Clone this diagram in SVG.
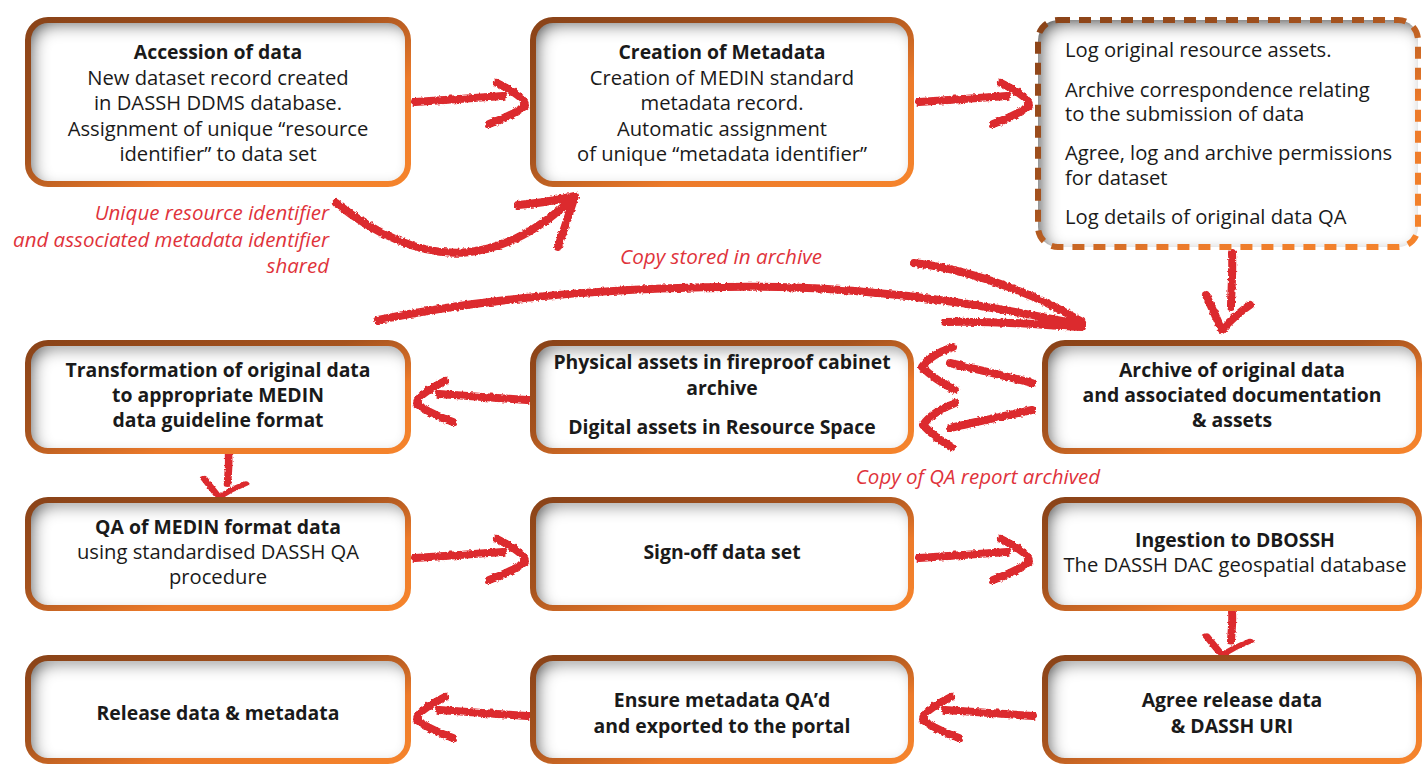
<svg xmlns="http://www.w3.org/2000/svg" width="1422" height="765" viewBox="0 0 1422 765">
<defs>
  <linearGradient id="border" x1="0" y1="0" x2="1" y2="1">
    <stop offset="0" stop-color="#8A4318"/>
    <stop offset="0.42" stop-color="#A6531E"/>
    <stop offset="0.68" stop-color="#EC7A2A"/>
    <stop offset="1" stop-color="#F5842C"/>
  </linearGradient>
  <filter id="inner" x="-5%" y="-10%" width="110%" height="120%">
    <feFlood flood-color="#000" flood-opacity="0.95"/>
    <feComposite in2="SourceAlpha" operator="out"/>
    <feGaussianBlur stdDeviation="8"/>
    <feOffset dx="6" dy="6"/>
    <feComposite in2="SourceAlpha" operator="in" result="sh"/>
    <feMerge><feMergeNode in="SourceGraphic"/><feMergeNode in="sh"/></feMerge>
  </filter>
  <filter id="brush" x="-10%" y="-10%" width="120%" height="120%">
    <feTurbulence type="fractalNoise" baseFrequency="0.35" numOctaves="2" seed="3" result="n"/>
    <feDisplacementMap in="SourceGraphic" in2="n" scale="3.5" xChannelSelector="R" yChannelSelector="G"/>
  </filter>
  <path id="rarrow" d="M0,2 C30,0 60,-2 88,-4 M82,-17 Q112,-2 110,6 Q100,14 74,24"/>
  <path id="darrow" d="M10,0 C11,20 9,40 9,54 M-16,42 Q-7,62 0,77 Q13,62 28,52"/>
</defs>
<style>
  .fill { fill: #ffffff; filter: url(#inner); }
  .border { fill: none; stroke: url(#border); stroke-width: 6; }
  .dashed { fill: none; stroke: url(#border); stroke-width: 6; stroke-dasharray: 12 9; }
  text { font-family: "Open Sans", Lato, "Liberation Sans", sans-serif; font-size: 20.2px; fill: #1a1a1a; }
  .c { text-anchor: middle; }
  .b { font-weight: bold; font-size: 19.4px; }
  .lbl { fill: #E0333B; font-style: italic; font-size: 20.5px; }
  .arr { fill: none; stroke: #DC2A2E; stroke-width: 8; stroke-linecap: round; stroke-linejoin: round; filter: url(#brush); }
</style>

<g id="connectors">
  <use href="#rarrow" class="arr" transform="translate(415,100)"/>
  <use href="#rarrow" class="arr" transform="translate(919,100)"/>
  <path class="arr" d="M336,203 C370,230 420,258 470,252 C510,247 545,225 574,197 M518,205 Q545,203 575,196 L558,247"/>
  <path class="arr" d="M378,320 C500,295 650,285 780,287 C900,290 1000,308 1082,325 M914,263 C960,268 1030,290 1082,322 M945,322 C990,320 1040,325 1082,327"/>
  <use href="#darrow" class="arr" transform="translate(1222,253)"/>
  <path class="arr" d="M1032,383 C1005,376 975,369 950,363 M953,347 Q930,355 922,367 Q935,380 955,390"/>
  <path class="arr" d="M1032,410 C1005,416 975,422 950,428 M955,403 Q932,412 923,425 Q935,438 952,447"/>
  <use href="#rarrow" class="arr" transform="translate(527,398) scale(-1,1)"/>
  <use href="#darrow" class="arr" transform="translate(219,455) scale(0.95,0.55)"/>
  <use href="#rarrow" class="arr" transform="translate(415,556)"/>
  <use href="#rarrow" class="arr" transform="translate(919,556)"/>
  <use href="#darrow" class="arr" transform="translate(1222,612) scale(1,0.56)"/>
  <use href="#rarrow" class="arr" transform="translate(1033,714) scale(-1,1)"/>
  <use href="#rarrow" class="arr" transform="translate(527,714) scale(-1,1)"/>
</g>

<g id="labels">
  <text class="lbl" x="329" y="220" text-anchor="end">Unique resource identifier</text>
  <text class="lbl" x="329" y="247" text-anchor="end">and associated metadata identifier</text>
  <text class="lbl" x="329" y="273" text-anchor="end">shared</text>
  <text class="lbl" x="620" y="264" textLength="202" lengthAdjust="spacingAndGlyphs">Copy stored in archive</text>
  <text class="lbl" x="978" y="484" text-anchor="middle">Copy of QA report archived</text>
</g>

<g id="n-accession">
  <rect class="fill" x="28" y="20" width="380" height="164" rx="20"/>
  <rect class="border" x="28" y="20" width="380" height="164" rx="20"/>
  <text class="c b" x="218" y="59">Accession of data</text>
  <text class="c" x="218" y="84.5">New dataset record created</text>
  <text class="c" x="218" y="110">in DASSH DDMS database.</text>
  <text class="c" x="218" y="135.5">Assignment of unique “resource</text>
  <text class="c" x="218" y="161">identifier” to data set</text>
</g>

<g id="n-metadata">
  <rect class="fill" x="533" y="20" width="378" height="164" rx="20"/>
  <rect class="border" x="533" y="20" width="378" height="164" rx="20"/>
  <text class="c b" x="722" y="59">Creation of Metadata</text>
  <text class="c" x="722" y="84.5">Creation of MEDIN standard</text>
  <text class="c" x="722" y="110">metadata record.</text>
  <text class="c" x="722" y="135.5">Automatic assignment</text>
  <text class="c" x="722" y="161">of unique “metadata identifier”</text>
</g>

<g id="n-log">
  <rect class="fill" x="1038" y="20" width="380" height="227" rx="20"/>
  <rect class="dashed" x="1038" y="20" width="380" height="227" rx="20"/>
  <text x="1065" y="57">Log original resource assets.</text>
  <text x="1065" y="97">Archive correspondence relating</text>
  <text x="1065" y="121">to the submission of data</text>
  <text x="1065" y="160">Agree, log and archive permissions</text>
  <text x="1065" y="185">for dataset</text>
  <text x="1065" y="224">Log details of original data QA</text>
</g>

<g id="n-transform">
  <rect class="fill" x="28" y="343" width="380" height="108" rx="20"/>
  <rect class="border" x="28" y="343" width="380" height="108" rx="20"/>
  <text class="c b" x="218" y="377">Transformation of original data</text>
  <text class="c b" x="218" y="402">to appropriate MEDIN</text>
  <text class="c b" x="218" y="427">data guideline format</text>
</g>

<g id="n-assets">
  <rect class="fill" x="533" y="343" width="378" height="108" rx="20"/>
  <rect class="border" x="533" y="343" width="378" height="108" rx="20"/>
  <text class="c b" x="722" y="369">Physical assets in fireproof cabinet</text>
  <text class="c b" x="722" y="395">archive</text>
  <text class="c b" x="722" y="434">Digital assets in Resource Space</text>
</g>

<g id="n-archive">
  <rect class="fill" x="1045" y="343" width="374" height="108" rx="20"/>
  <rect class="border" x="1045" y="343" width="374" height="108" rx="20"/>
  <text class="c b" x="1232" y="377">Archive of original data</text>
  <text class="c b" x="1232" y="402">and associated documentation</text>
  <text class="c b" x="1232" y="427">&amp; assets</text>
</g>

<g id="n-qa">
  <rect class="fill" x="28" y="500" width="380" height="108" rx="20"/>
  <rect class="border" x="28" y="500" width="380" height="108" rx="20"/>
  <text class="c b" x="218" y="534">QA of MEDIN format data</text>
  <text class="c" x="218" y="559">using standardised DASSH QA</text>
  <text class="c" x="218" y="584">procedure</text>
</g>

<g id="n-signoff">
  <rect class="fill" x="533" y="500" width="378" height="108" rx="20"/>
  <rect class="border" x="533" y="500" width="378" height="108" rx="20"/>
  <text class="c b" x="722" y="559">Sign-off data set</text>
</g>

<g id="n-ingest">
  <rect class="fill" x="1045" y="500" width="374" height="108" rx="20"/>
  <rect class="border" x="1045" y="500" width="374" height="108" rx="20"/>
  <text class="c b" x="1235" y="547">Ingestion to DBOSSH</text>
  <text class="c" x="1235" y="572">The DASSH DAC geospatial database</text>
</g>

<g id="n-release">
  <rect class="fill" x="28" y="658" width="380" height="103" rx="20"/>
  <rect class="border" x="28" y="658" width="380" height="103" rx="20"/>
  <text class="c b" x="218" y="720">Release data &amp; metadata</text>
</g>

<g id="n-ensure">
  <rect class="fill" x="533" y="658" width="378" height="103" rx="20"/>
  <rect class="border" x="533" y="658" width="378" height="103" rx="20"/>
  <text class="c b" x="722" y="707">Ensure metadata QA’d</text>
  <text class="c b" x="722" y="733">and exported to the portal</text>
</g>

<g id="n-agree">
  <rect class="fill" x="1045" y="658" width="374" height="103" rx="20"/>
  <rect class="border" x="1045" y="658" width="374" height="103" rx="20"/>
  <text class="c b" x="1232" y="707">Agree release data</text>
  <text class="c b" x="1232" y="733">&amp; DASSH URI</text>
</g>
</svg>
